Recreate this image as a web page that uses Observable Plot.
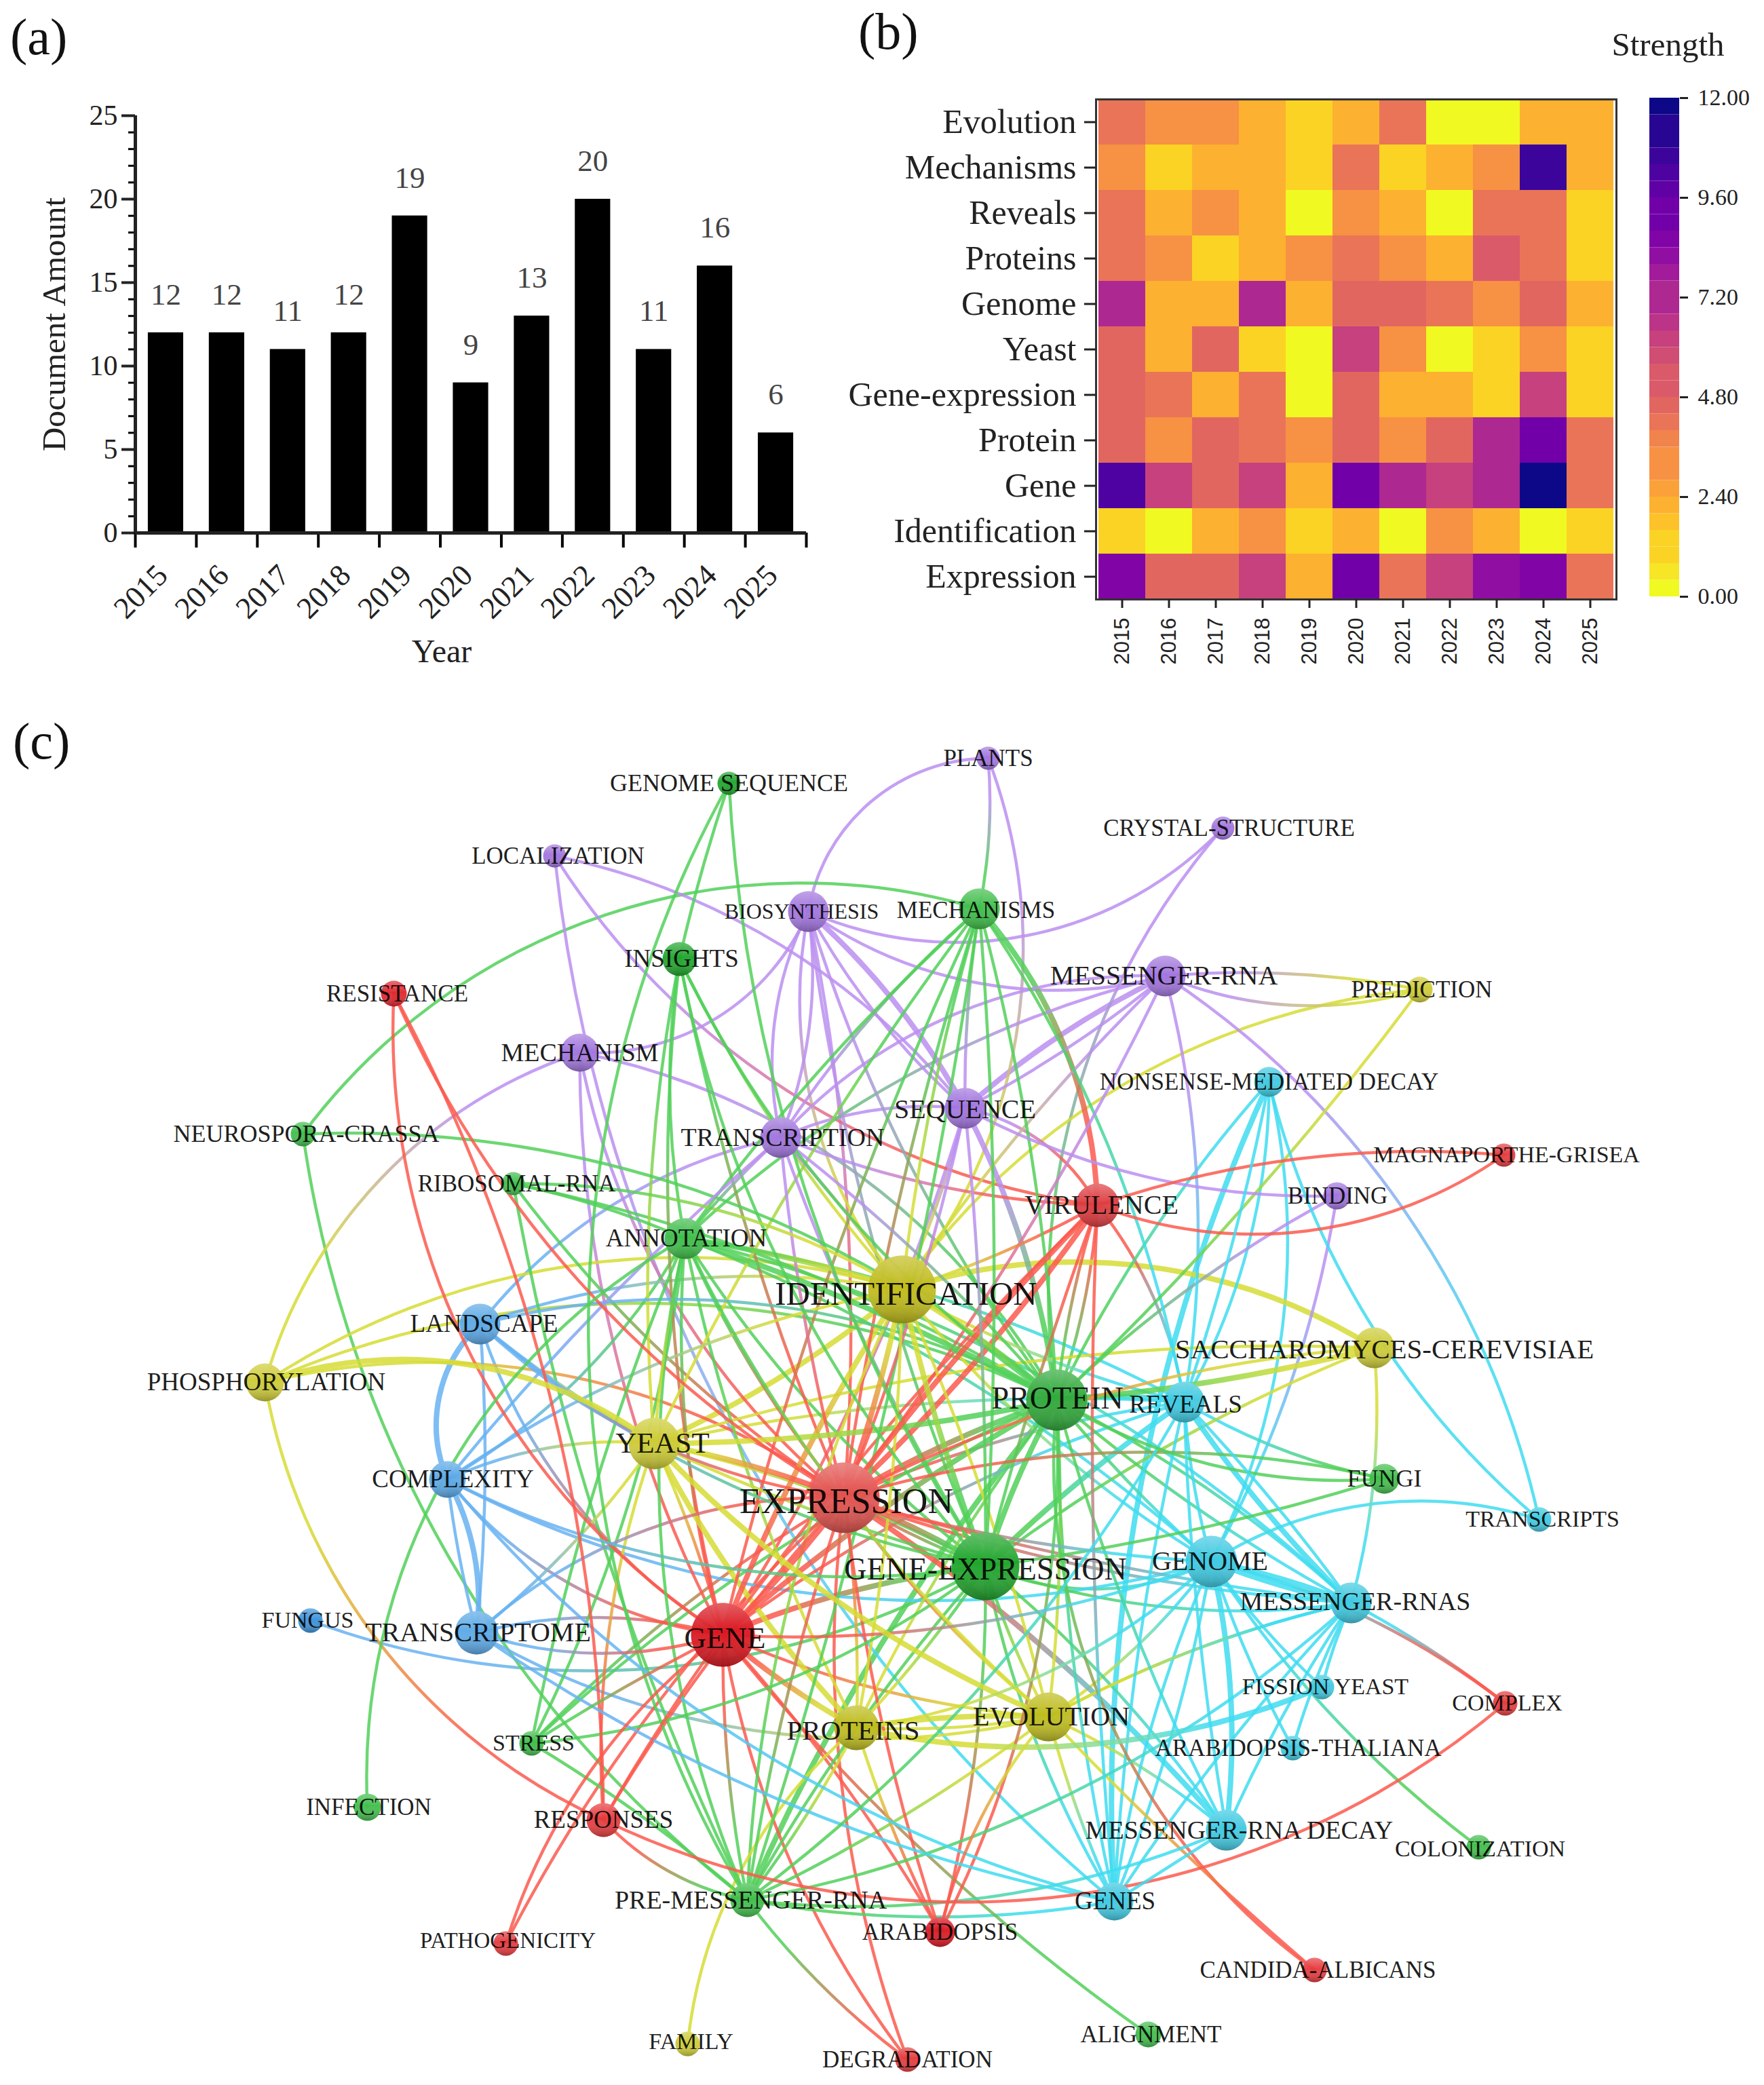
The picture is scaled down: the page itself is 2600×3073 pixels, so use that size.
<!DOCTYPE html>
<html><head><meta charset="utf-8">
<script src="https://cdn.jsdelivr.net/npm/d3@7"></script>
<script src="https://cdn.jsdelivr.net/npm/@observablehq/plot@0.6"></script>
<style>
html,body{margin:0;padding:0;background:#fff}
#page{position:relative;width:2600px;height:3073px;overflow:hidden;background:#fff;font-family:"Liberation Serif",serif}
#page>svg,#page>div{position:absolute}
.tag{font-size:76px;line-height:1;color:#111}
</style></head><body><div id="page"></div>
<script>
// ---- panel (a)
const years=[2015,2016,2017,2018,2019,2020,2021,2022,2023,2024,2025];
const docs=[12,12,11,12,19,9,13,20,11,16,6];
// ---- panel (b)
const terms=["Evolution","Mechanisms","Reveals","Proteins","Genome","Yeast","Gene-expression","Protein","Gene","Identification","Expression"];
const strength=[
[4.0,3.1,3.1,2.4,1.0,2.4,4.0,0.2,0.2,2.4,2.4],
[3.0,1.0,2.4,2.4,1.0,4.0,1.0,2.4,3.0,10.6,2.4],
[4.0,2.4,3.0,2.4,0.2,3.0,2.4,0.2,4.0,4.0,1.0],
[4.0,3.0,1.0,2.4,3.0,4.0,3.0,2.4,5.0,4.0,1.0],
[7.2,2.4,2.4,7.2,2.4,4.8,4.8,4.2,3.0,4.8,2.4],
[4.8,2.4,4.8,1.0,0.2,6.2,3.0,0.2,1.0,3.0,1.0],
[4.8,4.0,2.4,4.0,0.2,4.8,2.4,2.4,1.0,6.2,1.0],
[4.8,3.0,4.8,4.0,3.0,4.8,3.0,4.8,7.2,9.0,4.0],
[10.4,6.4,4.8,6.2,2.4,9.2,7.2,6.2,7.2,12,4.0],
[1.0,0.4,2.4,3.0,1.0,2.4,0.2,3.0,2.4,0.4,1.0],
[8.8,4.8,4.8,6.2,2.4,9.2,4.0,6.2,8.4,8.8,4.0]];
const strengthTicks=[0,2.4,4.8,7.2,9.6,12];
const strengthBands=[0,.4,.8,1.2,1.6,2,2.4,2.8,3.2,3.6,4,4.4,4.8,5.2,5.6,6,6.4,6.8,7.2,7.6,8,8.4,8.8,9.2,9.6,10,10.4,10.8,11.2,11.6];
// ---- panel (c): [key, label, cluster, layoutX, layoutY, size, labelSize, labelShiftX, labelShiftY]
const nodeRows=[
["GS","GENOME SEQUENCE","G",1074,1154,17,36,0,0],["LOC","LOCALIZATION","P",817,1261,17,35,5,0],
["INS","INSIGHTS","G",1001,1413,25,37,3,0],["BIO","BIOSYNTHESIS","P",1191,1343,30,32,-10,0],
["RES","RESISTANCE","R",580,1464,19,35,5,0],["MECH","MECHANISM","P",854,1551,28,38,0,0],
["NC","NEUROSPORA-CRASSA","G",446,1671,18,36,5,0],["TRN","TRANSCRIPTION","P",1150,1676,30,38,3,0],
["RIB","RIBOSOMAL-RNA","G",756,1744,17,35,5,0],["ANN","ANNOTATION","G",1009,1825,30,37,2,0],
["LAN","LANDSCAPE","B",707,1951,30,37,6,0],["PHO","PHOSPHORYLATION","Y",390,2037,28,37,2,0],
["IDE","IDENTIFICATION","Y",1329,1900,50,49,6,7],["PLA","PLANTS","P",1456,1117,17,35,0,0],
["CRY","CRYSTAL-STRUCTURE","P",1802,1220,17,35,9,0],["MCS","MECHANISMS","G",1443,1339,30,35,-5,2],
["MRNA","MESSENGER-RNA","P",1717,1438,30,40,-2,0],["PRD","PREDICTION","Y",2092,1458,19,35,3,0],
["NMD","NONSENSE-MEDIATED DECAY","C",1870,1594,22,35,0,0],["SEQ","SEQUENCE","P",1422,1633,30,40,0,2],
["MAG","MAGNAPORTHE-GRISEA","R",2216,1702,17,34,4,0],["BIN","BINDING","P",1970,1762,20,35,1,0],
["VIR","VIRULENCE","R",1617,1776,32,40,6,0],["SAC","SACCHAROMYCES-CEREVISIAE","Y",2025,1986,30,41,15,2],
["PRO","PROTEIN","G",1557,2063,45,46,1,-2],["REV","REVEALS","C",1745,2066,30,37,2,4],
["YEA","YEAST","Y",964,2127,38,43,12,0],["CPX","COMPLEXITY","B",659,2180,27,37,8,0],
["EXP","EXPRESSION","R",1244,2207,52,52,3,6],["FUN","FUNGI","G",2040,2179,22,36,0,0],
["TRS","TRANSCRIPTS","C",2268,2239,18,34,5,0],["GEX","GENE-EXPRESSION","G",1452,2308,50,46,0,5],
["GNM","GENOME","C",1785,2301,38,40,-2,0],["MRS","MESSENGER-RNAS","C",1991,2362,30,38,6,-2],
["FUS","FUNGUS","B",457,2388,18,34,-4,0],["TOM","TRANSCRIPTOME","B",702,2406,32,40,2,0],
["GEN","GENE","R",1065,2409,47,45,3,5],["FIS","FISSION YEAST","C",1948,2486,18,34,5,0],
["CPL","COMPLEX","R",2218,2510,18,34,3,0],["PRS","PROTEINS","Y",1262,2546,33,41,-5,4],
["EVO","EVOLUTION","Y",1545,2530,36,40,4,0],["ATH","ARABIDOPSIS-THALIANA","C",1905,2576,18,35,8,0],
["STR","STRESS","G",783,2569,18,34,3,0],["INF","INFECTION","G",541,2663,20,35,2,0],
["RSP","RESPONSES","R",889,2682,25,37,0,0],["MDC","MESSENGER-RNA DECAY","C",1807,2697,30,38,19,0],
["COL","COLONIZATION","G",2179,2722,18,34,2,3],["PRE","PRE-MESSENGER-RNA","G",1101,2800,25,38,5,0],
["GNS","GENES","C",1642,2802,28,37,1,0],["ARA","ARABIDOPSIS","R",1385,2847,22,35,0,0],
["PAT","PATHOGENICITY","R",745,2864,18,33,3,-4],["CAN","CANDIDA-ALBICANS","R",1937,2903,18,35,5,0],
["ALI","ALIGNMENT","G",1692,2998,19,35,4,0],["FAM","FAMILY","Y",1013,3012,18,34,5,-3],
["DEG","DEGRADATION","R",1337,3035,18,35,0,0]];
const clusterNode={R:"#e5383b",P:"#a074dc",G:"#3fbd4a",Y:"#ccca35",B:"#5aa8e6",C:"#3ec8e0"};
const clusterLink={R:"#fb5a4e",P:"#bb8ff0",G:"#52d05a",Y:"#d6dc35",B:"#68b2f2",C:"#3fdcf0"};
const nodeTone={GEN:"#d8141e",GEX:"#1ea32a",INS:"#1ea32a",GS:"#1ea32a",ARA:"#d8141e",RES:"#e0232b",FUS:"#3b90d8",IDE:"#c0bb1a",PRS:"#bdbb1c",EVO:"#bdbb1c",EXP:"#e2504e",PRO:"#2fa83a",VIR:"#dc3a3e"};
// links: source target bendDegrees widthClass
const linkRows=`PLA BIO -40 1;PLA MCS 8 1;PLA IDE 30 1;CRY BIO 35 1;CRY PRO -25 1;LOC SEQ 20 1;LOC VIR -25 1;LOC GNS -22 1;
MECH BIO -35 1;MECH PHO -28 1;MECH EXP -20 1;MECH GEN -14 1;MECH PRO 25 1;BIO TRN -20 1;BIO TRN 15 1;BIO IDE -25 1;BIO SEQ 10 2;BIO SEQ -10 1;BIO MRNA -25 1;BIO PRO -10 1;BIO GEX -8 1;BIO EXP 8 1;
TRN MRNA 25 1;SEQ MRNA 8 2;SEQ MRNA -6 1;TRN SEQ 15 1;MCS TRN -8 1;MCS SEQ -5 1;MRNA REV 12 1;MRNA TRS 22 1;MRNA PRD 8 1;MRNA PRD -20 1;MRNA EXP 6 1;ANN MRNA 15 1;MRNA IDE -6 1;
PRD IDE -25 1;PRD PRO 5 1;NC MCS 35 1;NC PRO 22 1;NC PRE -22 1;GS PRE -30 1;GS INS -3 1;GS GEX -15 1;
INS ANN -10 1;INS PRO -15 1;INS IDE -8 1;INS GEN -10 1;INS YEA -8 1;INS EXP -6 1;INS GEX -16 1;
RES GEN -30 1;RES EXP -18 1;RES RSP 14 1;RIB IDE 16 1;RIB ANN 6 1;RIB PRE -8 1;RIB EXP -10 1;RIB PRO 10 1;
ANN IDE 5 2;ANN PRO 5 2;ANN REV 10 1;ANN GEX -10 1;ANN EXP -8 1;ANN YEA -4 1;ANN GEN -10 1;ANN CPX 15 1;ANN STR 10 1;ANN EVO -12 1;ANN PRS -8 1;ANN GNM 10 1;ANN MRS 15 1;ANN PRE -18 1;
LAN CPX -35 2;LAN TRN 20 1;LAN EXP -18 1;LAN IDE 15 1;LAN PRO 22 1;LAN GEN -20 1;LAN YEA -5 1;LAN TOM 5 1;LAN GEX -15 1;
PHO IDE 25 1;PHO YEA 28 2;PHO EXP 25 1;PHO RSP -28 1;PHO PRO 25 1;
CPX TOM 18 2;CPX TOM -4 1;CPX YEA 15 1;CPX GEX -18 1;CPX GEN -22 1;CPX GNS -18 1;INF ANN 32 1;CPX IDE 12 1;CPX TRN 5 1;CPX GNM -22 1;
TOM YEA -8 1;TOM GEN 15 1;TOM GEN -18 1;TOM EXP 22 1;TOM EVO -22 1;TOM GNS -12 1;FUS GEX -25 1;STR GEN 3 1;STR GEX -16 1;STR PRE 5 1;STR ANN 6 1;STR EXP 8 1;STR PRO 10 1;
RSP GEN 3 1;RSP YEA 12 1;RSP EXP 6 1;RSP PRE -18 1;RSP CPL -33 1;PAT GEN 18 1;PAT EXP 10 1;FAM PRS 22 1;
PRE PRO 8 2;PRE GEX 6 1;PRE EXP 5 1;PRE MDC -15 1;PRE GNS -10 1;PRE DEG -8 1;PRE EVO -6 1;PRE PRS -5 1;PRE GEN 6 1;PRE IDE 12 1;PRE REV -12 1;PRE MRS -16 1;
EXP DEG -14 1;GEN DEG -14 1;ARA GEN -6 1;ARA EXP 6 1;ARA EVO 14 1;ARA PRO -15 1;ARA GEX -8 1;ARA PRS 5 1;GEN ALI -8 1;
EVO CAN -3 1;PRO CAN -30 1;GNS MDC 0 1;GNS GNM -6 1;GNS REV 5 1;GNS EVO 5 1;GNS MRS 5 1;GNS PRO 6 1;GNS GEX 10 1;MDC MRS 5 1;MDC GNM -10 2;MDC GEX -8 1;MDC EVO -8 1;MDC EXP -8 2;MDC PRO 6 1;MDC REV 4 1;
GNM MRS 5 2;GNM MRS -5 2;GNM ATH -5 1;GNM FIS -6 1;GNM CPL 12 1;GNM REV 6 1;GNM PRO 5 1;GNM PRS 18 1;GNM EVO 10 1;GEX GNM -25 1;GNM TRS 25 1;GNM GNS -8 1;GNM COL -10 1;
MRS CPL 5 1;SAC MRS 10 1;MRS REV 6 2;MRS PRO -8 1;GEX MRS -14 1;MRS EVO -8 1;MRS FIS -5 1;MRS ATH -6 1;MRS EXP 8 1;REV MRS 4 1;
FUN PRO 18 1;FUN EXP -15 1;FUN REV 10 1;FUN GEX 5 1;PRS FIS -18 2;EVO MRS 8 1;
NMD GNS -14 2;NMD GNM 20 1;NMD REV 15 1;NMD REV 4 1;NMD TRS -18 1;NMD PRO -8 1;MAG VIR -12 1;MAG VIR 28 1;TRN VIR -10 1;
SEQ BIN -15 1;BIN PRO -8 1;BIN GNM 10 1;VIR SEQ -25 1;VIR REV 15 1;VIR GNS -4 1;VIR EXP 6 2;VIR EXP -4 2;VIR GEN -5 1;VIR GEX -3 1;VIR PRO -6 1;VIR PRO 8 1;VIR IDE 6 1;
MCS VIR 20 2;MCS PRO 6 1;MCS IDE -5 1;MCS GEX 4 1;MCS ANN -6 1;MCS EXP -5 1;MCS PRE 5 1;MCS YEA -6 1;MCS GEN -6 1;MCS REV 12 1;
SEQ IDE 6 1;SEQ PRO 10 2;SEQ EXP 5 1;SEQ GEN 8 1;SEQ GEX 3 1;IDE SAC 25 2;SAC PRO 5 2;SAC EXP -12 1;SAC YEA -10 1;SAC GEX -8 1;TRN PRO 6 1;TRN GEX -6 1;TRN EXP -5 1;TRN IDE 5 1;TRN ANN -4 1;
IDE EXP 4 2;IDE PRO 6 2;IDE YEA 8 2;IDE GEX -4 2;IDE GEN -6 2;IDE PRS 5 1;IDE EVO 5 1;IDE REV -8 1;IDE GNM -10 1;
EXP GEN 5 2;EXP GEX 5 2;EXP GEX -5 1;EXP PRO 6 2;EXP YEA -6 2;EXP PRS 5 1;EXP EVO -8 1;EXP REV 8 1;EXP GNM -7 1;EXP MRS -5 1;
GEN GEX 8 2;GEN PRO 6 2;GEN YEA -5 1;GEN PRS -6 2;GEN EVO -10 1;GEN GNM -12 1;GEN REV 10 1;
GEX PRO 6 2;GEX REV 5 2;GEX PRS 5 1;GEX EVO -6 1;GEX YEA -8 1;PRO REV 8 2;PRO YEA 6 2;PRO PRS -6 1;PRO EVO 5 1;PRO MRS -6 1;
PRS EVO 6 2;PRS EVO -6 1;YEA PRS -8 2;YEA EVO -12 2;YEA GEX -5 1;YEA REV 8 1`;

// ---- helpers
const page=document.getElementById("page");
const place=(el,l,t)=>{el.style.left=l+"px";el.style.top=t+"px";page.appendChild(el);};
const serif='"Liberation Serif",serif';
const tag=(txt,l,t)=>{const d=document.createElement("div");d.className="tag";d.textContent=txt;place(d,l,t);};

// ---- (a) bars
const barRows=years.map((year,i)=>({year,n:docs[i]}));
const yearEdges=years.concat(2026).map(y=>y-.5);
const pa=Plot.plot({width:1250,height:1020,marginLeft:199,marginRight:62,marginTop:170,marginBottom:235,
  style:{fontFamily:serif,background:"none",color:"#222"},
  x:{domain:[2014.5,2025.5],axis:null},y:{domain:[0,25],axis:null},
  marks:[
    Plot.rectY(barRows,{x1:d=>d.year-.29,x2:d=>d.year+.29,y:"n",fill:"#000"}),
    Plot.text(barRows,{x:"year",y:"n",text:"n",dy:-56,fontSize:45,fill:"#444"}),
    Plot.axisY(d3.range(0,26),{tickSize:10,tickFormat:()=>"",strokeWidth:3,label:null,color:"#000"}),
    Plot.axisY([0,5,10,15,20,25],{tickSize:20,tickPadding:6,strokeWidth:4,fontSize:42,label:null,color:"#222"}),
    Plot.axisX(yearEdges,{tickSize:22,tickFormat:()=>"",strokeWidth:4,label:null,color:"#000"}),
    Plot.axisX(years,{tickSize:0,tickPadding:55,tickRotate:-45,tickFormat:"d",fontSize:45,dx:-5,label:null,color:"#222"}),
    Plot.text(["Document Amount"],{frameAnchor:"left",textAnchor:"middle",rotate:-90,dx:-119,fontSize:49,fill:"#222"}),
    Plot.text(["Year"],{frameAnchor:"bottom",dx:-43,dy:190,fontSize:48,fill:"#222"}),
    Plot.ruleX([2014.5],{strokeWidth:5}),Plot.ruleY([0],{strokeWidth:5})
  ]});
place(pa,0,0);

// ---- (b) heat map
const colorSpec={type:"quantize",n:30,scheme:"plasma",reverse:true,domain:[0,12]};
const heatRows=terms.flatMap((term,r)=>years.map((year,c)=>({term,year,v:strength[r][c]})));
const pb=Plot.plot({width:1140,height:1020,marginLeft:365,marginRight:8,marginTop:146,marginBottom:137,
  style:{fontFamily:serif,background:"none",color:"#222"},
  x:{domain:years,padding:0,axis:null},y:{domain:terms,padding:0,axis:null},color:colorSpec,
  marks:[
    Plot.cell(heatRows,{x:"year",y:"term",fill:"v"}),
    Plot.frame({stroke:"#333",strokeWidth:3}),
    Plot.axisY(terms,{tickSize:17,tickPadding:12,strokeWidth:3,fontSize:50,label:null,color:"#222"}),
    Plot.axisX(years,{tickSize:13,tickPadding:14,tickRotate:-90,tickFormat:"d",strokeWidth:3,fontSize:31,label:null,fontFamily:'"Liberation Sans",sans-serif',color:"#222"})
  ]});
place(pb,1250,0);

// ---- colour legend
const pl=Plot.plot({width:310,height:1020,marginLeft:141,marginRight:125,marginTop:144,marginBottom:141,
  style:{fontFamily:serif,background:"none",color:"#222"},
  x:{domain:[0,1],axis:null},y:{domain:[0,12],axis:null},color:colorSpec,
  marks:[
    Plot.rect(strengthBands,{x1:0,x2:1,y1:d=>d,y2:d=>d+.4,fill:d=>d+.2}),
    Plot.axisY(strengthTicks,{anchor:"right",tickSize:12,tickPadding:15,fontSize:34,tickFormat:d3.format(".2f"),strokeWidth:3,label:null,color:"#222"}),
    Plot.text(["Strength"],{frameAnchor:"top",dy:-97,dx:5,fontSize:49,fill:"#222"})
  ]});
place(pl,2290,0);

// ---- (c) network
const nodes=nodeRows.map(([key,label,cluster,x,y,r,size,sx,sy])=>({key,label,cluster,x,y,r,size,sx,sy}));
const byKey=new Map(nodes.map(n=>[n.key,n]));
const links=linkRows.replace(/\n/g,"").split(";").filter(Boolean).map((row,i)=>{
  const [s,t,bend,w]=row.trim().split(" ");
  const a=byKey.get(s),b=byKey.get(t);
  return {x1:a.x,y1:a.y,x2:b.x,y2:b.y,bend:+bend,w:+w===2?8:4.5,id:"lk"+i,
    c1:clusterLink[a.cluster],c2:clusterLink[b.cluster]};
});
// gradients: ball shading, and one source-to-target gradient for each link, placed with the plot's own scales
const defsMark=(index,{x,y})=>{
  const defs=d3.create("svg:defs");
  const g=defs.append("linearGradient").attr("id","ballShade").attr("x1",0).attr("y1",0).attr("x2",0).attr("y2",1);
  g.append("stop").attr("offset","0%").attr("stop-color","#fff").attr("stop-opacity",.3);
  g.append("stop").attr("offset","45%").attr("stop-color","#fff").attr("stop-opacity",0);
  g.append("stop").attr("offset","100%").attr("stop-color","#000").attr("stop-opacity",.28);
  for(const l of links){
    const lg=defs.append("linearGradient").attr("id",l.id).attr("gradientUnits","userSpaceOnUse")
      .attr("x1",x(l.x1)).attr("y1",y(l.y1)).attr("x2",x(l.x2)).attr("y2",y(l.y2));
    lg.append("stop").attr("offset","25%").attr("stop-color",l.c1);
    lg.append("stop").attr("offset","75%").attr("stop-color",l.c2);
  }
  return defs.node();
};
const linkMarks=Array.from(d3.group(links,d=>d.bend),([bend,rows])=>
  Plot.arrow(rows,{x1:"x1",y1:"y1",x2:"x2",y2:"y2",bend,headLength:0,stroke:d=>`url(#${d.id})`,strokeWidth:"w",strokeOpacity:.85}));
const pc=Plot.plot({width:2600,height:2043,margin:0,
  style:{fontFamily:serif,background:"none"},
  x:{domain:[0,2600],axis:null},y:{domain:[1030,3073],reverse:true,axis:null},r:{type:"identity"},color:{type:"identity"},
  marks:[
    defsMark,
    ...linkMarks,
    Plot.dot(nodes,{x:"x",y:"y",r:"r",fill:d=>nodeTone[d.key]||clusterNode[d.cluster],fillOpacity:.95}),
    Plot.dot(nodes,{x:"x",y:"y",r:"r",fill:"url(#ballShade)"}),
    Plot.text(nodes,{x:d=>d.x+d.sx,y:d=>d.y+d.sy,text:"label",fontSize:d=>d.size,fill:"#000",fillOpacity:.9})
  ]});
place(pc,0,1030);

tag("(a)",15,16);tag("(b)",1265,8);tag("(c)",19,1054);
</script></body></html>
